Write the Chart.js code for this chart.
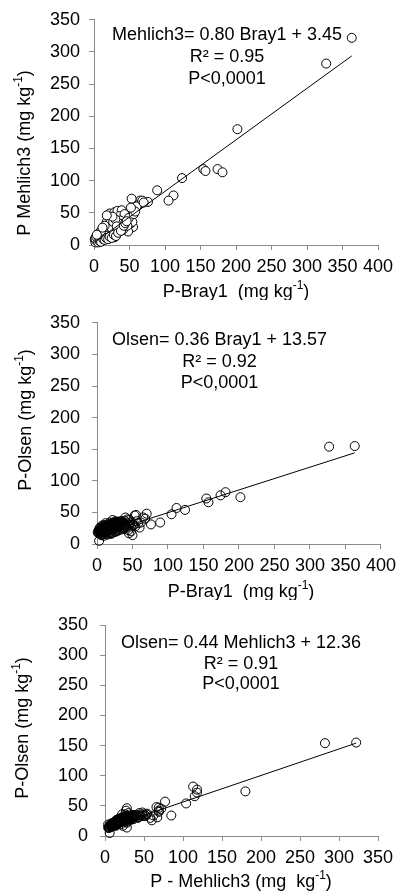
<!DOCTYPE html>
<html>
<head>
<meta charset="utf-8">
<script src="https://cdn.jsdelivr.net/npm/chart.js@4/dist/chart.umd.min.js"></script>
<style>
body { margin: 0; background: #fff; }
#wrap { position: relative; width: 402px; height: 893px; }
.box { position: absolute; left: 0; width: 402px; }
</style>
</head>
<body>
<div id="wrap">
  <div class="box" style="top:0;height:300px"><canvas id="g1"></canvas></div>
  <div class="box" style="top:300px;height:300px"><canvas id="g2"></canvas></div>
  <div class="box" style="top:600px;height:293px"><canvas id="g3"></canvas></div>
</div>
<script>
// P extraido por amostra, mg kg-1 (mesma ordem nos tres vetores)
const bray1 = [363, 327, 202, 154, 157, 174, 181, 124, 112, 105, 89, 76, 65, 53, 50, 45, 62, 60, 55, 68, 70,
  1, 6, 3, 8, 10, 12, 14, 15, 18, 20, 22, 24, 27, 29, 30, 32, 33, 35, 38, 39, 40, 42, 44, 46, 48, 51, 54,
  16, 19, 21, 25, 26, 5, 7, 9, 11, 13, 17, 23, 28, 31, 34, 36, 37, 41, 43, 47, 49, 56, 58,
  4, 2, 14, 20, 24, 29, 35, 40, 52, 22, 26,
  3, 4, 5, 6, 7, 8, 9, 10, 11, 12, 13, 14, 15, 16, 17, 18, 19, 20, 21, 22, 23, 24, 25, 26, 27, 28, 29, 30,
  31, 32, 33, 34, 35, 36, 37, 38, 2, 3, 5, 6, 8, 9, 11, 12, 14, 16, 18, 19, 21, 23, 25, 27, 30, 32,
  6, 8, 10, 13, 15, 17, 20, 22, 25, 28, 31, 34, 38, 42, 44, 46, 7, 10, 4, 15, 12, 26, 18];
const mehlich3 = [322, 282, 180, 118, 115, 118, 113, 104, 77, 69, 85, 67, 69, 72, 28, 23, 62, 60, 28, 69, 66,
  9, 10, 6, 12, 14, 16, 18, 12, 36, 22, 49, 20, 34, 51, 25, 23, 53, 30, 28, 54, 35, 40, 28, 44, 21, 33, 36,
  24, 14, 18, 30, 15, 8, 5, 18, 8, 26, 20, 27, 38, 18, 22, 45, 32, 24, 48, 30, 42, 48, 52,
  12, 4, 10, 16, 42, 12, 26, 27, 58, 30, 22,
  7, 9, 11, 6, 13, 9, 11, 8, 15, 12, 14, 21, 17, 13, 16, 19, 22, 12, 25, 17, 20, 24, 18, 28, 21, 25, 31, 20,
  27, 33, 26, 30, 35, 24, 38, 33, 10, 13, 15, 14, 17, 20, 19, 23, 15, 26, 24, 28, 30, 35, 26, 36, 40, 29,
  4, 6, 5, 9, 8, 11, 9, 13, 11, 16, 14, 19, 22, 30, 34, 37, 18, 22, 16, 30, 27, 44, 46];
const olsen = [155, 154, 74, 72, 66, 77, 82, 54, 57, 47, 34, 31, 42, 45, 14, 17, 34, 26, 46, 40, 48,
  18, 20, 5, 22, 24, 19, 26, 21, 28, 30, 33, 25, 31, 35, 27, 29, 36, 32, 24, 37, 30, 33, 22, 38, 20, 30, 28,
  23, 17, 22, 28, 20, 17, 15, 24, 21, 27, 25, 29, 33, 26, 31, 34, 26, 28, 39, 34, 31, 36, 33,
  22, 19, 18, 27, 30, 23, 36, 42, 30, 38, 36,
  17, 19, 20, 18, 21, 19, 22, 18, 23, 20, 22, 24, 23, 21, 24, 26, 25, 22, 28, 24, 27, 26, 25, 30, 27, 29, 28, 26,
  30, 32, 29, 31, 33, 27, 34, 30, 21, 23, 24, 25, 26, 27, 28, 29, 27, 30, 31, 32, 33, 34, 33, 35, 35, 34,
  14, 15, 13, 16, 15, 17, 16, 18, 19, 20, 22, 23, 25, 26, 29, 31, 29, 30, 26, 31, 33, 32, 34];

// equacoes ajustadas (y = a x + b)
const inclinacao = [0.80, 0.36, 0.44];
const intercepto = [3.45, 13.57, 12.36];
const r2 = ['0.95', '0.92', '0.91'];

const xMax = [400, 400, 350];
const yMax = [350, 350, 350];
const passo = 50;

const fonte = '"Liberation Sans", Arial, sans-serif';
const cinza = '#8c8c8c';

// texto com trecho sobrescrito: partes = [[texto, sobrescrito]]
function textoSup(ctx, partes, x, y) {
    const f = s => (s ? 12 : 18) + 'px ' + fonte;
    let w = 0;
    partes.forEach(p => { ctx.font = f(p[1]); w += ctx.measureText(p[0]).width; });
    let cx = x - w / 2;
    partes.forEach(p => {
        ctx.font = f(p[1]);
        ctx.fillText(p[0], cx, p[1] ? y - 6 : y);
        cx += ctx.measureText(p[0]).width;
    });
}

const paineis = {
    g1: { eq: 'Mehlich3= 0.80 Bray1 + 3.45', r2: r2[0], cx: 227, ys: [35, 57, 79],
          xt: [['P-Bray1  (mg kg', 0], ['-1', 1], [')', 0]], yt: [['P Mehlich3 (mg kg', 0], ['-1', 1], [')', 0]],
          xtPos: [236, 292], ytPos: [25, 153] },
    g2: { eq: 'Olsen= 0.36 Bray1 + 13.57', r2: r2[1], cx: 219.5, ys: [40, 62, 83],
          xt: [['P-Bray1  (mg kg', 0], ['-1', 1], [')', 0]], yt: [['P-Olsen (mg kg', 0], ['-1', 1], [')', 0]],
          xtPos: [241, 292], ytPos: [26, 120] },
    g3: { eq: 'Olsen= 0.44 Mehlich3 + 12.36', r2: r2[2], cx: 241, ys: [43, 64, 84],
          xt: [['P - Mehlich3 (mg  kg', 0], ['-1', 1], [')', 0]], yt: [['P-Olsen (mg kg', 0], ['-1', 1], [')', 0]],
          xtPos: [241, 282], ytPos: [23, 128] }
};

// equacao, R2, P e titulos dos eixos
const anotacoes = {
    id: 'anotacoes',
    afterDraw(chart) {
        const p = paineis[chart.canvas.id];
        const ctx = chart.ctx;
        ctx.save();
        ctx.fillStyle = '#000';
        ctx.textAlign = 'center';
        ctx.textBaseline = 'middle';
        ctx.font = '18px ' + fonte;
        [p.eq, 'R\u00b2 = ' + p.r2, 'P<0,0001'].forEach((t, i) => ctx.fillText(t, p.cx, p.ys[i]));
        ctx.textAlign = 'left';
        textoSup(ctx, p.xt, p.xtPos[0], p.xtPos[1]);
        ctx.translate(p.ytPos[0], p.ytPos[1]);
        ctx.rotate(-Math.PI / 2);
        textoSup(ctx, p.yt, 0, 0);
        ctx.restore();
    }
};

function eixo(max, fit, pad) {
    return {
        type: 'linear', min: 0, max: max, afterFit: fit,
        ticks: { stepSize: passo, color: '#000', font: { size: 18, family: fonte }, padding: pad, maxRotation: 0, autoSkip: false },
        grid: { drawOnChartArea: false, drawTicks: true, tickLength: 5, color: cinza },
        border: { color: cinza }
    };
}

function grafico(id, i, xs, ys, preenchido, area) {
    const pontos = xs.map((v, k) => ({ x: v, y: ys[k] }));
    const x0 = Math.min(...xs), x1 = Math.max(...xs);
    const reta = [x0, x1].map(v => ({ x: v, y: inclinacao[i] * v + intercepto[i] }));
    new Chart(document.getElementById(id), {
        type: 'scatter',
        data: { datasets: [
            { data: reta, type: 'line', borderColor: '#000', borderWidth: 1, pointRadius: 0, clip: false, order: 0 },
            { data: pontos, pointStyle: 'circle', pointRadius: 4.5, pointBorderWidth: 1, pointBorderColor: '#000',
              pointBackgroundColor: preenchido ? '#fff' : 'rgba(0,0,0,0)', clip: false, order: 1 }
        ] },
        options: {
            responsive: true, maintainAspectRatio: false, animation: false,
            layout: { padding: { top: area.top, right: area.right, left: 0, bottom: 0 } },
            plugins: { legend: { display: false }, tooltip: { enabled: false } },
            scales: {
                x: eixo(xMax[i], s => { s.height = area.xh; }, 6),
                y: eixo(yMax[i], s => { s.width = area.yw; }, area.ypad)
            }
        },
        plugins: [anotacoes]
    });
}

grafico('g1', 0, bray1, mehlich3, true, { top: 18, right: 24, xh: 55, yw: 94, ypad: 9 });
grafico('g2', 1, bray1, olsen, false, { top: 18, right: 16, xh: 56, yw: 97, ypad: 12 });
grafico('g3', 2, mehlich3, olsen, false, { top: 25, right: 24, xh: 57, yw: 105, ypad: 12 });
</script>
</body>
</html>
